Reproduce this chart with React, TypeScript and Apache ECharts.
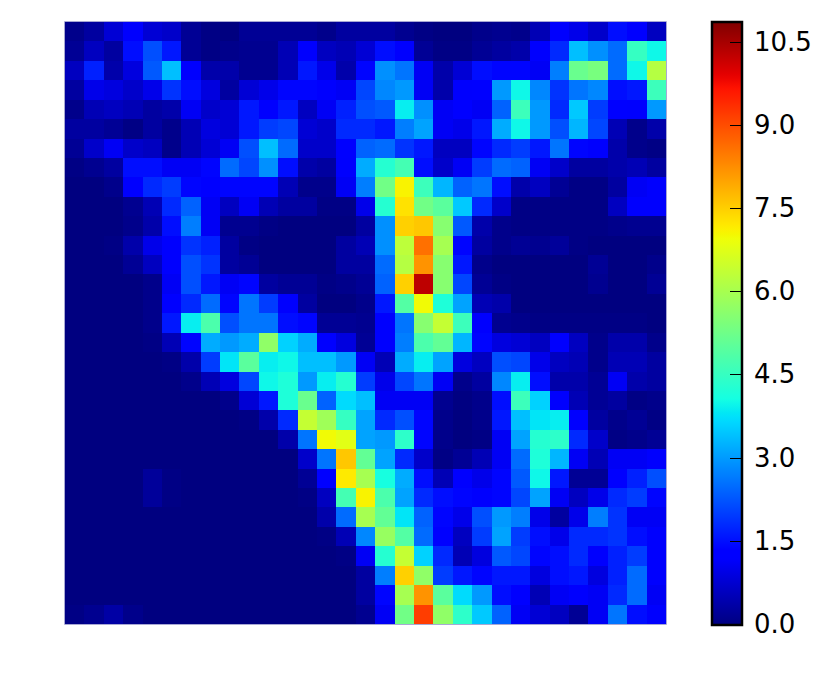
import React, { useEffect, useRef } from "react";
import * as echarts from "echarts";

const rowsTop = [
  [0.1,0.3,0.8,1.2,0.8,0.7,0.2,0.05,0,0.2,0.2,0.2,0.2,0.1,0.3,0.3,0.3,0.15,0.05,0,0,0.1,0.15,0.1,0.5,1.2,1.0,0.7,1.5,1.3,0.6],
  [0.2,0.6,0.3,1.5,2.2,1.6,0.2,0.05,0.1,0.15,0.15,0.5,1.2,0.6,0.5,0.8,1.5,1.2,0.2,0.05,0.05,0.2,0.3,0.4,1.2,1.8,3.4,2.9,2.5,4.5,4.0],
  [0.6,1.7,0.4,0.9,2.3,3.4,1.2,0.4,0.4,0.15,0.15,0.5,1.6,1.0,0.4,1.4,2.9,2.6,1.1,0.4,0.8,1.5,1.4,1.4,1.1,2.7,5.2,5.4,2.5,4.0,6.2],
  [0.3,1.0,0.9,0.7,1.0,1.9,1.5,0.9,0.3,0.8,1.0,1.4,1.4,1.2,1.1,2.1,2.8,3.0,1.1,0.4,1.2,1.3,3.0,4.0,2.8,1.9,2.6,2.8,1.5,1.6,4.6],
  [0.1,0.5,0.6,0.5,0.3,0.4,1.1,0.7,0.8,1.6,1.3,1.6,0.6,1.1,1.7,2.2,2.3,3.9,2.9,1.1,1.3,1.1,2.4,4.6,3.0,1.8,3.5,2.0,1.3,1.2,3.0],
  [0.3,0.3,0.2,0.05,0.3,0.1,0.5,0.9,0.8,1.6,2.0,2.1,0.8,0.7,1.8,1.8,1.6,2.7,3.1,1.1,1.0,1.6,3.2,4.0,3.0,2.2,3.3,2.1,0.5,0.1,0.4],
  [0.2,0.7,1.1,0.7,0.6,0.1,0.5,0.8,1.1,2.2,3.4,2.5,0.7,0.7,1.3,2.4,2.5,1.9,1.6,0.6,0.6,1.4,1.8,2.0,1.6,2.6,1.4,1.2,0.4,0.1,0.05],
  [0.05,0.15,0.3,1.5,1.5,1.1,1.1,1.4,2.5,2.1,2.9,1.5,0.4,0.3,1.2,3.2,4.3,4.7,1.5,0.7,1.1,2.0,2.5,2.4,1.1,0.7,0.3,0.3,0.4,0.5,0.3],
];
const rowsUpperMiddle = [
  [0,0,0.1,1.3,1.8,2.0,1.4,1.3,1.4,1.4,1.4,0.5,0.1,0.1,1.1,2.7,5.3,7.1,4.6,3.3,2.4,2.6,1.5,0.4,0.6,0.2,0.05,0.05,0.3,1.1,1.2],
  [0,0,0,0.15,0.5,1.8,2.4,1.1,0.6,1.1,0.5,0.3,0.3,0.05,0.05,1.0,4.3,7.3,5.3,5.0,3.5,1.8,0.7,0.05,0.05,0.05,0.05,0.05,0.6,1.2,1.2],
  [0,0,0,0.1,0.4,1.5,2.7,1.1,0.15,0.15,0.05,0,0,0,0,0.3,2.9,7.5,7.6,5.6,2.3,0.4,0.1,0.05,0.05,0.05,0.05,0.05,0.1,0.15,0.15],
  [0,0,0.05,0.4,1.0,1.2,1.9,1.7,0.3,0.05,0,0,0,0,0.3,0.5,2.9,6.3,8.6,6.0,1.4,0.3,0.1,0.2,0.15,0.25,0.05,0,0,0,0],
  [0,0,0,0.2,0.6,1.2,2.2,1.9,0.3,0.2,0,0,0,0,0.3,0.3,2.5,6.2,8.2,5.6,1.6,0.1,0,0,0,0,0,0.2,0,0,0.1],
  [0,0,0,0,0.1,1.1,2.2,1.6,1.1,1.4,0.3,0.2,0.2,0.05,0.1,0.2,2.4,7.5,10.3,5.6,2.1,0.2,0.05,0,0,0,0,0.15,0,0,0.2],
  [0,0,0,0,0.1,1.3,1.8,2.5,1.4,2.6,2.0,1.2,0.3,0,0,0.1,1.6,4.9,7.0,4.2,3.1,0.5,0.4,0,0,0,0,0,0,0,0],
  [0,0,0,0,0.1,1.6,3.9,4.8,2.2,2.6,2.6,1.5,1.4,0.2,0.2,0.15,1.2,2.6,5.6,6.4,4.6,1.2,0.15,0.1,0.05,0.05,0.05,0.05,0.05,0.05,0],
];
const rowsLowerMiddle = [
  [0,0,0,0,0.05,0.5,1.4,3.2,3.0,3.2,5.7,3.6,3.2,1.3,0.9,0.2,1.2,2.7,4.8,5.1,3.3,1.4,0.9,0.8,0.6,1.2,0.6,0.1,0.4,0.4,0.1],
  [0,0,0,0,0,0.05,0.4,2.0,3.8,5.0,3.9,4.0,3.4,3.4,3.0,1.1,0.5,3.2,3.9,3.1,0.9,0.6,2.2,2.1,1.0,0.6,0.5,0.1,0.5,0.5,0.3],
  [0,0,0,0,0,0,0.1,0.5,0.9,2.1,4.0,4.2,3.0,3.9,4.3,2.0,1.0,2.1,2.6,1.1,0.1,0.3,2.8,3.9,1.5,0.4,0.4,0.2,1.1,0.4,0.3],
  [0,0,0,0,0,0,0,0,0.1,0.8,1.6,4.2,5.2,2.4,3.7,3.4,1.1,1.1,1.1,0.15,0.02,0.1,1.5,4.6,3.6,1.2,0.5,0.2,0.3,0.05,0.1],
  [0,0,0,0,0,0,0,0,0,0.05,0.4,1.8,6.4,5.9,4.5,3.1,1.8,2.2,1.4,0.1,0,0.1,1.6,3.4,3.8,3.9,1.3,0.3,0.1,0.2,0.05],
  [0,0,0,0,0,0,0,0,0,0,0,0.4,2.6,7.0,6.8,3.1,3.0,4.4,1.4,0.1,0,0.05,1.1,3.1,4.3,4.4,1.8,0.7,0.05,0.1,0.2],
  [0,0,0,0,0,0,0,0,0,0,0,0,0.7,2.6,7.6,5.1,3.1,1.8,0.7,0.05,0.2,0.5,1.1,2.5,4.2,3.3,1.1,0.5,1.1,1.1,1.2],
  [0,0,0,0,0.25,0.05,0,0,0,0,0,0,0.2,1.3,7.2,6.0,4.1,3.2,1.5,0.5,1.3,1.0,1.4,2.3,4.0,1.6,0.2,0.2,1.3,1.7,2.2],
];
const rowsBottom = [
  [0,0,0,0,0.25,0.05,0,0,0,0,0,0,0.05,0.6,4.7,7.1,4.8,3.1,1.8,1.5,1.4,1.2,1.4,2.1,3.1,1.1,0.6,1.0,1.8,2.0,1.4],
  [0,0,0,0,0,0,0,0,0,0,0,0,0,0.4,2.5,6.0,5.1,3.8,2.4,1.4,1.0,2.2,3.0,2.7,1.0,0.3,1.0,2.7,1.9,1.1,1.1],
  [0,0,0,0,0,0,0,0,0,0,0,0,0,0.05,0.5,2.8,5.8,4.9,2.5,1.3,0.6,2.0,3.1,2.0,1.5,1.0,1.8,1.8,1.9,1.5,1.2],
  [0,0,0,0,0,0,0,0,0,0,0,0,0,0,0.05,1.1,4.3,6.4,3.6,1.8,0.5,0.9,2.3,2.1,1.4,1.5,1.8,1.2,1.7,2.0,1.2],
  [0,0,0,0,0,0,0,0,0,0,0,0,0,0,0,0.3,2.7,7.5,5.7,2.0,1.6,1.4,1.6,1.6,0.9,1.5,1.6,0.9,1.7,2.5,1.2],
  [0,0,0,0,0,0,0,0,0,0,0,0,0,0,0,0.3,1.4,6.0,8.2,5.0,3.7,3.0,1.5,1.3,0.5,1.1,1.2,1.1,1.8,2.5,1.1],
  [0.05,0.15,0.35,0.1,0,0,0,0,0,0,0,0,0,0,0,0.15,1.1,5.3,9.2,5.7,4.4,3.5,2.4,1.1,0.8,0.6,0.2,1.1,2.6,1.5,1.2],
];
const valueRows = [...rowsTop, ...rowsUpperMiddle, ...rowsLowerMiddle, ...rowsBottom];
const colorbarTicks = [0, 1.5, 3, 4.5, 6, 7.5, 9, 10.5];
const valueMax = 10.875;

function segment(stops: number[][], t: number) {
  for (let i = 1; i < stops.length; i++) {
    if (t <= stops[i][0]) {
      const [x0, y0] = stops[i - 1];
      const [x1, y1] = stops[i];
      return y0 + ((y1 - y0) * (t - x0)) / (x1 - x0);
    }
  }
  return stops[stops.length - 1][1];
}
const redStops = [[0, 0], [0.35, 0], [0.66, 1], [0.89, 1], [1, 0.5]];
const greenStops = [[0, 0], [0.125, 0], [0.375, 1], [0.64, 1], [0.91, 0], [1, 0]];
const blueStops = [[0, 0.5], [0.11, 1], [0.34, 1], [0.65, 0], [1, 0]];
const jetColors = Array.from({ length: 129 }, (_, i) => {
  const t = i / 128;
  const c = (s: number[][]) => Math.round(segment(s, t) * 255);
  return `rgb(${c(redStops)},${c(greenStops)},${c(blueStops)})`;
});

export default function App() {
  const ref = useRef<HTMLDivElement>(null);
  useEffect(() => {
    const chart = echarts.init(ref.current!, undefined, { renderer: "svg" });
    const cols = valueRows[0].map((_, i) => i);
    const rows = valueRows.map((_, i) => i);
    const data: number[][] = [];
    valueRows.forEach((row, y) => row.forEach((v, x) => data.push([x, y, v])));
    const barFill = new echarts.graphic.LinearGradient(
      0, 1, 0, 0,
      jetColors.map((color, i) => ({ offset: i / (jetColors.length - 1), color }))
    );
    const tickMarks = colorbarTicks.map((v) => {
      const py = Math.round(625 - (v / valueMax) * 603) - 1;
      return {
        type: "rect",
        z: 20,
        shape: { x: 730, y: py, width: 12, height: 1 },
        style: { fill: "#000000" },
      };
    });
    const decorations = [
      {
        type: "rect",
        z: 5,
        shape: { x: 712, y: 22, width: 30, height: 603 },
        style: { fill: barFill },
      },
      {
        type: "rect",
        z: 10,
        shape: { x: 712, y: 22, width: 30, height: 603 },
        style: { fill: "none", stroke: "#000000", lineWidth: 2.5 },
      },
      {
        type: "rect",
        z: 1,
        shape: { x: 64.5, y: 21.5, width: 602, height: 603 },
        style: { fill: "none", stroke: "#a8a8d4", lineWidth: 1 },
      },
      ...tickMarks,
    ];
    chart.setOption({
      animation: false,
      backgroundColor: "#ffffff",
      grid: [
        { left: 65, top: 22, width: 601, height: 602 },
        { left: 712, top: 21, width: 30, height: 603 },
      ],
      xAxis: [
        { type: "category", data: cols, gridIndex: 0, show: false },
        { type: "value", gridIndex: 1, show: false, min: 0, max: 1 },
      ],
      yAxis: [
        { type: "category", data: rows, gridIndex: 0, inverse: true, show: false },
        {
          type: "value",
          gridIndex: 1,
          position: "right",
          min: 0,
          max: valueMax,
          splitLine: { show: false },
          axisLine: { show: false },
          axisTick: { show: false },
          axisLabel: {
            show: true,
            customValues: colorbarTicks,
            margin: 12,
            color: "#000000",
            fontFamily: "DejaVu Sans",
            fontSize: 26,
            formatter: (v: number) => v.toFixed(1),
          },
        },
      ],
      visualMap: {
        type: "continuous",
        show: false,
        seriesIndex: 0,
        dimension: 2,
        min: 0,
        max: valueMax,
        inRange: { color: jetColors },
      },
      graphic: decorations,
      series: [
        {
          type: "custom",
          xAxisIndex: 0,
          yAxisIndex: 0,
          data,
          encode: { x: 0, y: 1 },
          renderItem: (_: any, api: any) => {
            const [cx, cy] = api.coord([api.value(0), api.value(1)]);
            const [w, h] = api.size([1, 1]);
            const x0 = Math.round(cx - w / 2);
            const y0 = Math.round(cy - h / 2);
            return {
              type: "rect",
              shape: {
                x: x0,
                y: y0,
                width: Math.round(cx + w / 2) - x0,
                height: Math.round(cy + h / 2) - y0,
              },
              style: { fill: api.visual("color") },
            };
          },
        },
      ],
    });
    return () => chart.dispose();
  }, []);
  return <div ref={ref} style={{ position: "absolute", left: 0, top: 0, width: 832, height: 681 }} />;
}
